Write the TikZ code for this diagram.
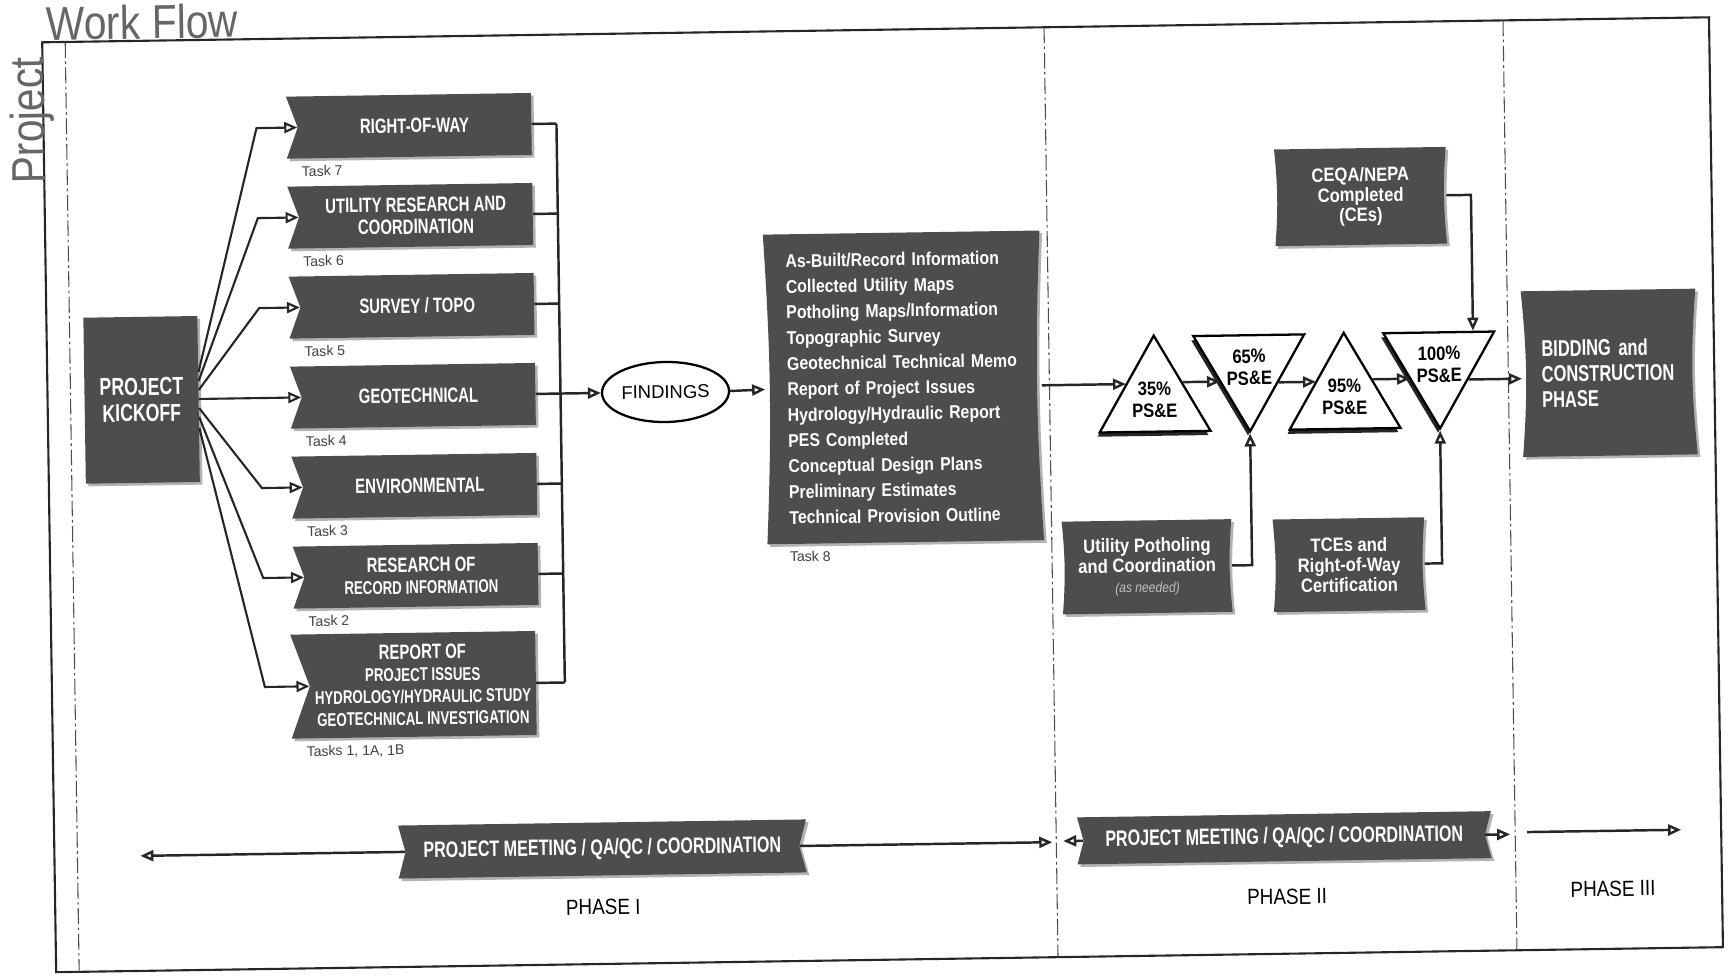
\documentclass[tikz,border=0pt]{standalone}
\usepackage{fontspec}
\setmainfont{Liberation Sans}
\newfontfamily\narrowfont{Liberation Sans}[FakeStretch=0.72]
\newfontfamily\semifont{Liberation Sans}[FakeStretch=0.86]
\usetikzlibrary{positioning,calc,shapes.symbols,shapes.geometric,shadows,arrows.meta}
\pgfdeclarelayer{background}
\pgfsetlayers{background,main}
\definecolor{boxgray}{HTML}{4D4D4D}
\newcommand{\subsz}{\fontsize{10.5}{11.5}\selectfont}
\newcommand{\bowfill}[2][5]{%
  \begin{pgfonlayer}{background}
    \fill[boxgray, drop shadow={shadow xshift=1.5pt, shadow yshift=-1.5pt, fill=black!30, opacity=1}]
      (#2.north west) -- (#2.north east) to[bend right=#1] (#2.south east)
      -- (#2.south west) to[bend right=#1] (#2.north west) -- cycle;
  \end{pgfonlayer}}

\begin{document}
\begin{tikzpicture}[x=0.2mm, y=-0.2mm, >={Triangle[open,length=2.6mm,width=2.2mm]},
  lite/.style={drop shadow={shadow xshift=1.5pt, shadow yshift=-1.5pt, fill=black!30, opacity=1}},
  taskbox/.style={signal, signal from=west, signal to=nowhere, signal pointer angle=140,
    fill=boxgray, text=white, lite, align=center, inner sep=2pt,
    font=\narrowfont\bfseries\fontsize{11.8}{12.5}\selectfont,
    minimum width=4.9cm, minimum height=1.24cm},
  tasklbl/.style={font=\fontsize{8}{9}\selectfont, text=black!75, inner sep=0pt},
  bowbox/.style={text=white, align=center, inner sep=2pt,
    font=\semifont\bfseries\fontsize{11}{11.5}\selectfont},
  tri/.style={regular polygon, regular polygon sides=3, minimum size=2.52cm, inner sep=0pt,
    draw, line width=1.3pt, fill=white, align=center,
    font=\semifont\bfseries\fontsize{11}{12.5}\selectfont,
    drop shadow={shadow xshift=-1.2pt, shadow yshift=-2.4pt, fill=black!85, opacity=1}},
  tridown/.style={tri, shape border rotate=180},
  meetbar/.style={signal, signal from=west and east, signal to=nowhere, signal pointer angle=150,
    fill=boxgray, text=white, lite,
    font=\narrowfont\bfseries\fontsize{12.7}{13.5}\selectfont},
  phaselbl/.style={font=\semifont\fontsize{12.5}{14}\selectfont},
  phaseline/.style={black!70, line width=0.6pt, dash pattern=on 9pt off 2pt on 1.5pt off 2pt},
  flow/.style={->, line width=1.4pt, black!85}]
\useasboundingbox (0,0) rectangle (1732,979);
\begin{scope}[rotate around={0.86:(866,490)}, transform shape]
  % frame and phases
  \draw[line width=1.2pt, black!85] (49,30) rectangle (1716,960);
  \node[anchor=base west, inner sep=0pt, text=black!60, font=\semifont\fontsize{27}{29}\selectfont] (title) at (53,28) {Work Flow};
  \node[anchor=base, rotate=90, inner sep=0pt, text=black!60, font=\semifont\fontsize{27}{29}\selectfont] (proj) at (50,108) {Project};
  \draw[phaseline] (72,30) -- (72,960);
  \draw[phaseline] (1051,30) -- (1051,960);
  \draw[phaseline] (1510,30) -- (1510,960);

  % phase I
  \node[fill=boxgray, text=white, lite, align=center, minimum width=2.28cm, minimum height=3.32cm,
    font=\narrowfont\bfseries\fontsize{14}{15}\selectfont] (kick) at (143,389) {PROJECT\\KICKOFF};
  \node[taskbox] (row) at (420,119) {RIGHT-OF-WAY};
  \node[taskbox] (util) at (420,209) {UTILITY RESEARCH AND\\COORDINATION};
  \node[taskbox] (surv) at (420,299) {SURVEY / TOPO};
  \node[taskbox] (geo) at (420,389) {GEOTECHNICAL};
  \node[taskbox] (env) at (420,479) {ENVIRONMENTAL};
  \node[taskbox] (rec) at (420,569) {RESEARCH OF\\\subsz RECORD INFORMATION};
  \node[taskbox, minimum height=2.08cm] (rep) at (420,678) {REPORT OF\\\subsz PROJECT ISSUES\\\subsz HYDROLOGY/HYDRAULIC STUDY\\\subsz GEOTECHNICAL INVESTIGATION};
  \node[tasklbl, below right=0.14cm and 0.3cm of row.south west] (l7) {Task 7};
  \node[tasklbl, below right=0.14cm and 0.3cm of util.south west] (l6) {Task 6};
  \node[tasklbl, below right=0.14cm and 0.3cm of surv.south west] (l5) {Task 5};
  \node[tasklbl, below right=0.14cm and 0.3cm of geo.south west] (l4) {Task 4};
  \node[tasklbl, below right=0.14cm and 0.3cm of env.south west] (l3) {Task 3};
  \node[tasklbl, below right=0.14cm and 0.3cm of rec.south west] (l2) {Task 2};
  \node[tasklbl, below right=0.14cm and 0.3cm of rep.south west] (l1) {Tasks 1, 1A, 1B};

  \coordinate (fanx) at (262,0);
  \foreach \n/\dy in {row/-27, util/-18, surv/-9, env/9, rec/18, rep/29}
    \draw[flow, line width=1.2pt] ($(kick.east)+(0,\dy)$) -- (fanx |- \n.west) -- (\n.west);
  \draw[flow, line width=1.2pt] (kick.east) -- (geo.west);

  \coordinate (brk) at (562,389);
  \foreach \n in {row, util, surv, env, rec, rep}
    \draw[line width=1.4pt, black!85] (\n.east) -- (\n.east -| brk);
  \draw[line width=1.4pt, black!85] (row.east -| brk) -- (rep.east -| brk);

  \node[draw, ellipse, line width=1.3pt, inner sep=0pt, minimum width=2.54cm, minimum height=1.2cm,
    font=\fontsize{10.5}{12}\selectfont] (find) at (667,389) {FINDINGS};
  \draw[flow] (geo.east) -- (find.west);

  \node[bowbox, align=left, text width=4.64cm, minimum width=5.52cm, minimum height=6.18cm,
    font=\semifont\bfseries\fontsize{10.5}{14.6}\selectfont] (tasklist) at (905,388)
    {As-Built/Record Information\\Collected Utility Maps\\Potholing Maps/Information\\Topographic Survey\\Geotechnical Technical Memo\\Report of Project Issues\\Hydrology/Hydraulic Report\\PES Completed\\Conceptual Design Plans\\Preliminary Estimates\\Technical Provision Outline};
  \bowfill[3]{tasklist}
  \node[tasklbl, below right=0.14cm and 0.44cm of tasklist.south west] (l8) {Task 8};
  \draw[flow] (find.east) -- (tasklist.west);

  % phase II
  \node[bowbox, minimum width=3.42cm, minimum height=1.92cm] (ceqa) at (1365,204) {CEQA/NEPA\\Completed\\(CEs)};
  \bowfill{ceqa}
  \node[tri] (t35) at (1156,404) {35\%\\PS\&E};
  \node[tridown] (t65) at (1251,373) {65\%\\PS\&E};
  \node[tri] (t95) at (1346,404) {95\%\\PS\&E};
  \node[tridown] (t100) at (1441,373) {100\%\\PS\&E};
  \node[bowbox, minimum width=3.38cm, minimum height=1.84cm] (pothole) at (1146,571)
    {Utility Potholing\\and Coordination\\\mdseries\itshape\fontsize{8}{9}\selectfont\color{black!25}(as needed)};
  \bowfill{pothole}
  \node[bowbox, minimum width=3.02cm, minimum height=1.84cm] (tce) at (1348,572) {TCEs and\\Right-of-Way\\Certification};
  \bowfill{tce}

  \draw[flow] (tasklist.east) -- (tasklist.east -| t35.149);
  \draw[flow] (t35.31) -- (t35.31 -| t65.208);
  \draw[flow] (t65.332) -- (t65.332 -| t95.149);
  \draw[flow] (t95.31) -- (t95.31 -| t100.208);
  \coordinate (ceqain) at ($(t100.corner 3)!0.8!(t100.corner 2)$);
  \draw[flow] (ceqa.east) -| (ceqain);
  \draw[flow] (pothole.east) -| (t65.corner 1);
  \draw[flow] (tce.east) -| (t100.corner 1);

  % phase III
  \node[bowbox, align=left, text width=2.7cm, minimum width=3.48cm, minimum height=3.3cm,
    font=\narrowfont\bfseries\fontsize{13}{14.5}\selectfont] (bid) at (1611,384) {BIDDING and\\CONSTRUCTION\\PHASE};
  \bowfill{bid}
  \draw[flow] (t100.332) -- (t100.332 -| bid.west);

  % meetings
  \node[meetbar, minimum width=8.16cm, minimum height=1.06cm] (meet1) at (597,845) {PROJECT MEETING / QA/QC / COORDINATION};
  \node[meetbar, minimum width=8.28cm, minimum height=0.94cm] (meet2) at (1279,844) {PROJECT MEETING / QA/QC / COORDINATION};
  \coordinate (m1l) at (135,845);
  \coordinate (m1r) at (1047,845);
  \coordinate (m2l) at (1058,844);
  \coordinate (m2r) at (1505,844);
  \coordinate (p3s) at (1522,842);
  \coordinate (p3e) at (1676,842);
  \draw[flow] (meet1.west) -- (m1l);
  \draw[flow] (meet1.east) -- (m1r);
  \draw[flow] (meet2.west) -- (m2l);
  \draw[flow] (meet2.east) -- (m2r);
  \draw[flow] (p3s) -- (p3e);
  \node[phaselbl] (ph1) at (597,903) {PHASE I};
  \node[phaselbl] (ph2) at (1281,903) {PHASE II};
  \node[phaselbl] (ph3) at (1607,900) {PHASE III};
\end{scope}
\end{tikzpicture}
\end{document}
